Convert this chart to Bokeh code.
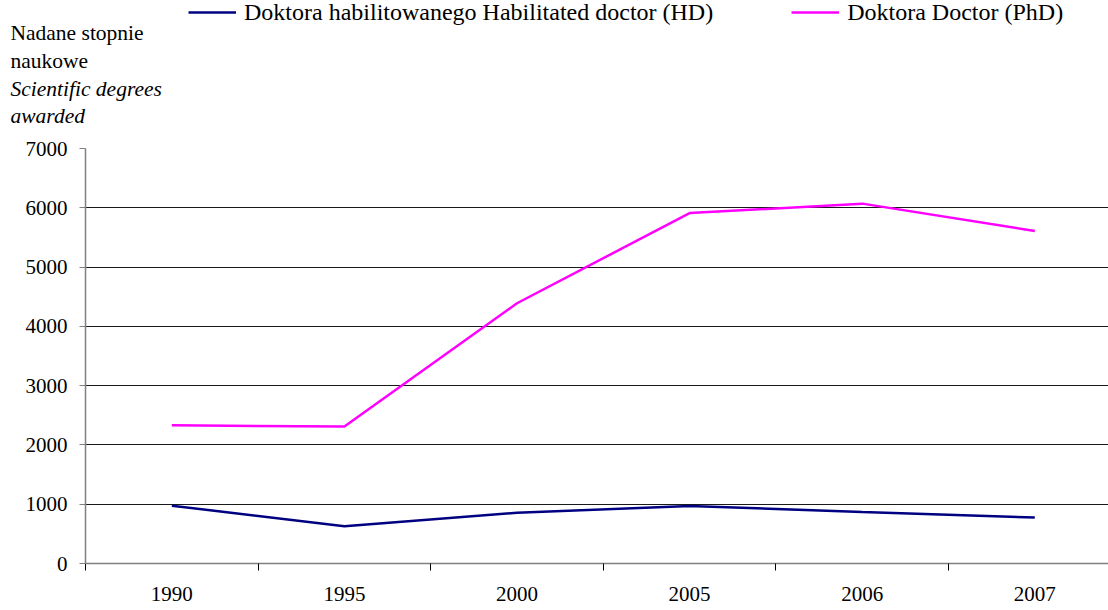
from bokeh.plotting import figure
from bokeh.layouts import column
from bokeh.models import (Range1d, FixedTicker, Legend, LegendItem, Title)
from bokeh.embed import file_html
from bokeh.resources import INLINE

# ---- data ----
years = ["1990", "1995", "2000", "2005", "2006", "2007"]
hd_values = [975, 630, 855, 970, 870, 775]
phd_values = [2330, 2310, 4390, 5910, 6070, 5610]
y_ticks = [0, 1000, 2000, 3000, 4000, 5000, 6000, 7000]
grid_ticks = [1000, 2000, 3000, 4000, 5000, 6000]
hd_name = "Doktora habilitowanego Habilitated doctor (HD)"
phd_name = "Doktora Doctor (PhD)"
y_title_lines = ["Nadane stopnie", "naukowe", "Scientific degrees", "awarded"]

FONT = "Liberation Serif"
HD_COLOR = "#000080"
PHD_COLOR = "#FF00FF"
LW = 2.5
xs = list(range(len(years)))

# ---------------- header: legend (in frame) + y-axis title (below panel) ----------------
HEAD_FRAME = 26
head = figure(
    output_backend="svg", toolbar_location=None,
    frame_width=1023, frame_height=HEAD_FRAME,
    min_border_left=85, min_border_right=0, min_border_top=0, min_border_bottom=0,
    x_range=Range1d(0, 1), y_range=Range1d(0, 1),
    x_axis_type=None, y_axis_type=None,
)
head.outline_line_color = None
head.xgrid.grid_line_color = None
head.ygrid.grid_line_color = None

# legend swatches (kept outside the visible range of the header)
k_hd = head.line([-2, -1], [-2, -1], line_color=HD_COLOR, line_width=LW)
k_phd = head.line([-2, -1], [-2, -1], line_color=PHD_COLOR, line_width=LW)
legend = Legend(
    items=[LegendItem(label=hd_name, renderers=[k_hd]),
           LegendItem(label=phd_name, renderers=[k_phd])],
    orientation="horizontal",
    location=(103, 0.5),
    glyph_width=48, glyph_height=24, label_height=24,
    label_standoff=8, spacing=78, padding=0, margin=0,
    border_line_color=None, background_fill_alpha=0,
    label_text_font=FONT, label_text_font_size="24px", label_text_color="black",
)
head.add_layout(legend, "center")

standoffs = [-16, 20, -16, 18]   # Nadane, naukowe, Scientific, awarded
for i, txt in enumerate(y_title_lines):
    head.add_layout(Title(
        text=txt, text_font=FONT, text_font_size="21.5px",
        text_font_style="italic" if i >= 2 else "normal",
        text_color="black", align="left", offset=-75, standoff=standoffs[i],
    ), "below")

# ---------------- main chart ----------------
p = figure(
    output_backend="svg", toolbar_location=None,
    frame_width=1023, frame_height=415,
    min_border_left=85, min_border_right=0,
    min_border_top=12, min_border_bottom=47,
    x_range=Range1d(-0.5, 5.427), y_range=Range1d(0, 7000),
)
p.outline_line_color = None

p.line(xs, hd_values, line_color=HD_COLOR, line_width=LW)
p.line(xs, phd_values, line_color=PHD_COLOR, line_width=LW)

# x axis: labels at category centres, tick marks at category boundaries
xa = p.xaxis[0]
xa.ticker = FixedTicker(ticks=xs, minor_ticks=[i - 0.5 for i in range(len(years) + 1)])
xa.major_label_overrides = {i: y for i, y in enumerate(years)}
xa.major_tick_in = 0
xa.major_tick_out = 0
xa.minor_tick_in = 0
xa.minor_tick_out = 7
xa.minor_tick_line_color = "#000000"
xa.axis_line_color = "#808080"
xa.axis_line_width = 1.5
xa.major_label_standoff = 16
xa.major_label_text_font = FONT
xa.major_label_text_font_size = "21px"
xa.major_label_text_color = "black"

ya = p.yaxis[0]
ya.ticker = FixedTicker(ticks=y_ticks, minor_ticks=[])
ya.major_tick_in = 0
ya.major_tick_out = 6
ya.major_tick_line_color = "#808080"
ya.axis_line_color = "#808080"
ya.axis_line_width = 1.5
ya.major_label_standoff = 12
ya.major_label_text_font = FONT
ya.major_label_text_font_size = "21px"
ya.major_label_text_color = "black"

p.xgrid.grid_line_color = None
p.ygrid.ticker = FixedTicker(ticks=grid_ticks, minor_ticks=[])
p.ygrid.grid_line_color = "#1a1a1a"
p.ygrid.grid_line_width = 1

layout = column(head, p, spacing=0)
open("out.html", "w").write(file_html(layout, INLINE))
